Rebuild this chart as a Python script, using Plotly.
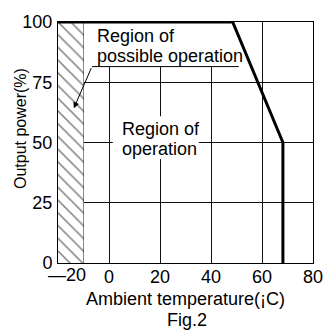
import plotly.graph_objects as go

# ---- data ----
temps = [-20, 48.5, 68.2, 68.2]          # derating curve, ambient temperature (deg C)
power = [100, 100, 50, 0]                 # output power (%)
hatch_x = [-20, -10, -10, -20, -20]       # region of possible operation (hatched)
hatch_y = [0, 0, 100, 100, 0]
x_ticks = [-10, 0, 20, 40, 60, 80]
x_tick_text = ["", "0", "20", "40", "60", "80"]
y_ticks = [0, 25, 50, 75, 100]
y_tick_text = ["0", "25", "50", "75", "100"]

FONT = "Liberation Sans, Arial, sans-serif"
fs = 18

fig = go.Figure()

fig.add_trace(go.Scatter(
    x=hatch_x, y=hatch_y, mode="lines", fill="toself",
    fillcolor="white", line=dict(width=0),
    fillpattern=dict(shape="\\", fgcolor="black", bgcolor="white", size=9, solidity=0.17),
    hoverinfo="skip", showlegend=False))

fig.add_trace(go.Scatter(
    x=temps, y=power, mode="lines",
    line=dict(color="black", width=3), showlegend=False, hoverinfo="skip"))

shapes = [
    dict(type="rect", xref="x", yref="y", x0=-6.7, x1=50.9, y0=81.5, y1=99.6,
         fillcolor="white", line=dict(width=0), layer="between"),
    dict(type="rect", xref="x", yref="y", x0=1.5, x1=35.2, y0=43.2, y1=60.9,
         fillcolor="white", line=dict(width=0), layer="between"),
    dict(type="line", xref="x", yref="y", x0=-6.7, x1=50.9, y0=81.5, y1=81.5,
         line=dict(color="black", width=1), layer="above"),
]

annotations = [
    dict(x=-5.35, y=94.0, xref="x", yref="y", text="Region of", showarrow=False,
         xanchor="left", yanchor="middle", font=dict(size=fs, color="black", family=FONT)),
    dict(x=-5.35, y=86.0, xref="x", yref="y", text="possible operation", showarrow=False,
         xanchor="left", yanchor="middle", font=dict(size=fs, color="black", family=FONT)),
    dict(x=4.4, y=55.8, xref="x", yref="y", text="Region of", showarrow=False,
         xanchor="left", yanchor="middle", font=dict(size=fs, color="black", family=FONT)),
    dict(x=4.4, y=47.2, xref="x", yref="y", text="operation", showarrow=False,
         xanchor="left", yanchor="middle", font=dict(size=fs, color="black", family=FONT)),
    dict(x=-13.8, y=64.2, ax=-6.7, ay=81.5, xref="x", yref="y", axref="x", ayref="y",
         text="", showarrow=True, arrowhead=2, arrowsize=1.2, arrowwidth=1, arrowcolor="black",
         standoff=0),
    dict(x=-16.3, y=0, xref="x", yref="y", text="\u201420", showarrow=False,
         xanchor="center", yanchor="top", yshift=0,
         font=dict(size=fs, color="black", family=FONT)),
    dict(x=-0.147, y=0.558, xref="paper", yref="paper", text="Output power(%)", showarrow=False,
         textangle=-90, xanchor="center", yanchor="middle",
         font=dict(size=16, color="black", family=FONT)),
    dict(x=0.505, y=-0.238, xref="paper", yref="paper", text="Fig.2", showarrow=False,
         xanchor="center", yanchor="middle", font=dict(size=fs, color="black", family=FONT)),
]

fig.update_layout(
    width=335, height=332,
    margin=dict(l=58, r=12, t=20, b=69),
    paper_bgcolor="white", plot_bgcolor="white",
    font=dict(family=FONT, size=fs, color="black"),
    shapes=shapes, annotations=annotations,
    showlegend=False,
    xaxis=dict(range=[-20, 80], tickvals=x_ticks, ticktext=x_tick_text,
               showgrid=True, gridcolor="#111", gridwidth=1,
               showline=True, linecolor="black", linewidth=1, mirror=True,
               zeroline=False, ticks="", ticklabelstandoff=-3,
               title=dict(text="Ambient temperature(\u00a1C)", standoff=6,
                          font=dict(size=fs, family=FONT, color="black")),
               fixedrange=True),
    yaxis=dict(range=[0, 100], tickvals=y_ticks, ticktext=y_tick_text,
               showgrid=True, gridcolor="#111", gridwidth=1,
               showline=True, linecolor="black", linewidth=1, mirror=True,
               zeroline=False, ticks="", ticklabelstandoff=1,
               fixedrange=True),
)

fig.write_html("out.html", config={"displayModeBar": False},
               post_script="document.body.style.margin='0px';document.body.style.overflow='hidden';")
